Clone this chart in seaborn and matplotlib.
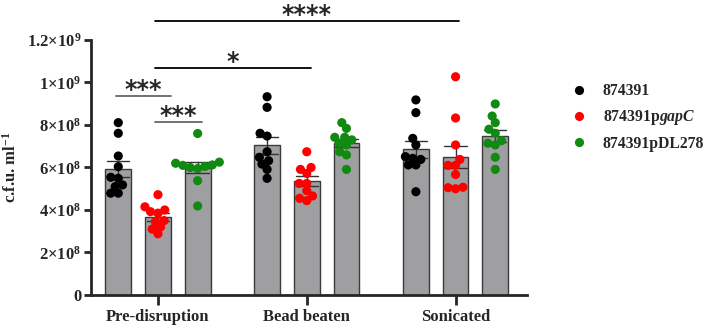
"""c.f.u. counts per treatment, bars = mean +/- SEM with individual points."""
import numpy as np
import pandas as pd
import matplotlib
matplotlib.use('Agg')
import matplotlib.pyplot as plt
import seaborn as sns

# values in units of 1e8 c.f.u./ml
treatments = ['Pre-disruption', 'Bead beaten', 'Sonicated']
strains = ['874391', '874391pgapC', '874391pDL278']
strain_labels = ['874391', '874391p$\\mathit{gapC}$', '874391pDL278']
colors = ['#000000', '#ff0000', '#108a10']

pre_wt = [8.11, 7.61, 6.54, 6.04, 5.49, 5.54, 5.18, 5.10, 4.79, 4.79]
pre_gapc = [4.72, 4.15, 4.00, 3.92, 3.85, 3.45, 3.50, 3.20, 3.10, 2.88]
pre_dl = [7.60, 6.25, 6.20, 6.12, 6.10, 6.05, 6.00, 5.95, 5.38, 4.19]
bead_wt = [9.33, 8.83, 7.61, 7.48, 6.74, 6.48, 6.32, 6.16, 5.91, 5.49]
bead_gapc = [6.74, 5.91, 6.00, 5.72, 5.25, 5.25, 4.91, 4.66, 4.55, 4.44]
bead_dl = [8.11, 7.84, 7.42, 7.42, 7.30, 7.14, 7.06, 6.74, 6.59, 5.91]
son_wt = [9.18, 8.58, 7.37, 7.06, 6.51, 6.43, 6.38, 6.12, 6.12, 4.86]
son_gapc = [10.27, 8.33, 7.06, 6.38, 6.10, 6.10, 5.67, 5.07, 5.05, 5.00]
son_dl = [8.99, 8.42, 8.11, 7.80, 7.61, 7.26, 7.14, 7.06, 6.48, 5.91]

yticks = [0, 2e8, 4e8, 6e8, 8e8, 1e9, 1.2e9]
ytick_labels = ['0', '2×10$^{8}$', '4×10$^{8}$', '6×10$^{8}$',
                '8×10$^{8}$', '1×10$^{9}$', '1.2×10$^{9}$']

# significance brackets: (x0, x1, y, label, colour)
brackets = [(-0.28, 0.087, 9.38e8, '***', '#666666'),
            (-0.02, 0.295, 8.14e8, '***', '#666666'),
            (-0.02, 1.03, 10.7e8, '*', '#000000'),
            (-0.02, 2.02, 12.91e8, '****', '#000000')]

groups = [(treatments[0], strains[0], pre_wt), (treatments[0], strains[1], pre_gapc),
          (treatments[0], strains[2], pre_dl), (treatments[1], strains[0], bead_wt),
          (treatments[1], strains[1], bead_gapc), (treatments[1], strains[2], bead_dl),
          (treatments[2], strains[0], son_wt), (treatments[2], strains[1], son_gapc),
          (treatments[2], strains[2], son_dl)]
rows = []
for t, s, vals in groups:
    for v in vals:
        rows.append({'treatment': t, 'strain': s, 'cfu': v * 1e8})
df = pd.DataFrame(rows)

sns.set_style('ticks')
plt.rcParams['font.family'] = ['Liberation Serif', 'DejaVu Serif']
plt.rcParams['font.weight'] = 'bold'
plt.rcParams['mathtext.fontset'] = 'custom'
plt.rcParams['mathtext.rm'] = 'Liberation Serif:bold'
plt.rcParams['mathtext.it'] = 'Liberation Serif:italic:bold'
plt.rcParams['mathtext.bf'] = 'Liberation Serif:bold'

fig = plt.figure(figsize=(7.07, 3.27), dpi=100)
ax = fig.add_axes([0.1287, 0.0979, 0.6167, 0.7798])

sns.barplot(data=df, x='treatment', y='cfu', hue='strain', order=treatments,
            hue_order=strains, palette=['#9f9ea3'] * 3, errorbar='se',
            width=0.8, gap=0.35, edgecolor='#3a3a3a', linewidth=1.0,
            capsize=0.45, err_kws={'color': '#333333', 'linewidth': 1.0},
            legend=False, ax=ax)
n_before = len(ax.collections)
# lay the swarm out with smaller markers so the points overlap like the original
sns.swarmplot(data=df, x='treatment', y='cfu', hue='strain', order=treatments,
              hue_order=strains, palette=colors, dodge=True, size=5.2,
              linewidth=0, ax=ax)

ax.set_ylim(0, 1.2e9)
ax.set_xlim(-0.45, 2.48)
fig.canvas.draw()
for coll in ax.collections[n_before:]:
    if 'draw' in coll.__dict__:
        del coll.draw
    coll.set_sizes([6.6 ** 2])

ax.set_yticks(yticks)
ax.set_yticklabels(ytick_labels, fontsize=12, fontweight='bold')
for lab in ax.get_xticklabels():
    lab.set_fontsize(12)
    lab.set_fontweight('bold')
ax.set_xlabel('')
ax.set_ylabel('c.f.u. ml$^{-1}$', fontsize=12, fontweight='bold', labelpad=5)
sns.despine(ax=ax)
for sp in ['left', 'bottom']:
    ax.spines[sp].set_linewidth(2)
ax.tick_params(axis='y', length=5, width=2, pad=2)
ax.tick_params(axis='x', length=7, width=2, pad=3)

for x0, x1, y, lab, c in brackets:
    ax.plot([x0, x1], [y, y], color=c, lw=1.3, clip_on=False)
    ax.text((x0 + x1) / 2, y - 0.005e9, lab, ha='center', va='baseline',
            fontsize=17, fontweight='bold', family='DejaVu Sans', clip_on=False)

handles, _ = ax.get_legend_handles_labels()
leg = ax.legend(handles, strain_labels, loc='upper left', bbox_to_anchor=(1.05, 0.885),
                frameon=False, fontsize=11.3, handletextpad=0.55, labelspacing=0.55,
                markerscale=1.0)
for h in leg.legend_handles:
    h.set_markersize(6.6)

fig.savefig('out.png', dpi=100)
